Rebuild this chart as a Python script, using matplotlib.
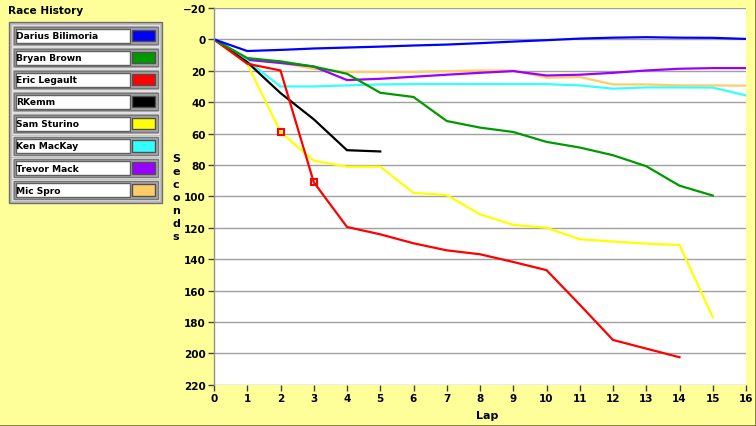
import matplotlib
matplotlib.use("Agg")
import matplotlib.pyplot as plt
from matplotlib.patches import Rectangle
from matplotlib.lines import Line2D

# Race history data (seconds behind leader per lap)
names = ["Darius Bilimoria", "Bryan Brown", "Eric Legault", "RKemm",
         "Sam Sturino", "Ken MacKay", "Trevor Mack", "Mic Spro"]
colors = ["#0000FF", "#009900", "#FF0000", "#000000",
          "#FFFF00", "#33FFFF", "#9900FF", "#FFCC66"]

darius = [0, 7.4, 6.7, 5.8, 5.2, 4.6, 3.9, 3.3, 2.4, 1.4, 0.5, -0.5, -1.1, -1.4, -1.1, -1.0, -0.3]
bryan = [0, 11.9, 14, 17.3, 21.9, 34, 36.7, 52, 56.2, 59, 65.3, 68.9, 73.8, 80.8, 93.2, 99.5]
eric = [0, 15.5, 19.8, 91, 119.5, 124.2, 129.9, 134.4, 136.9, 141.8, 147, 169, 191.5, 197, 202.5]
rkemm = [0, 14.5, 34.2, 50.9, 70.6, 71.4]
sam = [0, 15.5, 59, 77.3, 81.1, 81.1, 97.8, 99.2, 111.4, 118.2, 120, 127.3, 128.8, 130.1, 131, 177]
ken = [0, 13.5, 30, 30, 29.3, 28.7, 28.5, 28.5, 28.5, 28.5, 28.5, 29.3, 31.4, 30.6, 30.6, 30.7, 35.7]
trevor = [0, 13, 15, 17.3, 25.9, 25.1, 23.8, 22.5, 21.3, 20.2, 23, 22.5, 21.3, 19.8, 18.7, 18.3, 18.3]
mic = [0, 12.5, 15, 18.7, 20.8, 20.8, 20.8, 20.2, 19.8, 19.8, 24.4, 24, 28.7, 28.7, 29.3, 29.3, 29.5]
series = [darius, bryan, eric, rkemm, sam, ken, trevor, mic]

# red square markers (lap, seconds)
mark_laps = [2, 3]
mark_secs = [59, 91]

y_ticks = list(range(-20, 221, 20))
x_ticks = list(range(0, 17))

BG = "#FFFF99"
W, H = 756, 427
fig = plt.figure(figsize=(W / 100, H / 100), dpi=100, facecolor=BG)

ax = fig.add_axes([214 / W, 1 - 385.7 / H, 532 / W, 376.7 / H])
ax.set_facecolor("white")

# draw in reverse so the first driver sits on top
for vals, c in reversed(list(zip(series, colors))):
    ax.plot(range(len(vals)), vals, color=c, lw=1.6, solid_joinstyle="miter")

ax.plot(mark_laps, mark_secs, linestyle="none", marker="s", markersize=5,
        markerfacecolor="none", markeredgecolor="#FF0000", markeredgewidth=1.5, zorder=5)

ax.set_xlim(0, 16)
ax.set_ylim(220, -20)
ax.set_xticks(x_ticks)
ax.set_yticks(y_ticks)
ax.yaxis.grid(True, color="#A0A0A0", lw=1)
ax.set_axisbelow(True)

for s in ["top", "right", "bottom"]:
    ax.spines[s].set_visible(False)
ax.spines["left"].set_color("#909090")
ax.spines["left"].set_linewidth(1)

ax.tick_params(axis="both", direction="out", length=4, width=1, color="#404040",
               labelsize=7.5, pad=2)
for lbl in ax.get_xticklabels() + ax.get_yticklabels():
    lbl.set_fontweight("bold")

# axis titles
fig.text(176 / W, 1 - 198 / H, "S\ne\nc\no\nn\nd\ns", ha="center", va="center",
         fontsize=8, fontweight="bold", linespacing=1.38)
fig.text(487 / W, 1 - 416 / H, "Lap", ha="center", va="center",
         fontsize=8, fontweight="bold")
fig.text(8 / W, 1 - 11 / H, "Race History", ha="left", va="center",
         fontsize=7.6, fontweight="bold")

# legend panel drawn in pixel coordinates
leg = fig.add_axes([0, 0, 1, 1], facecolor="none")
leg.set_xlim(0, W)
leg.set_ylim(H, 0)
leg.axis("off")

leg.add_patch(Rectangle((8.5, 22.5), 153.5, 181, facecolor="#B8B8B8",
                        edgecolor="#707070", lw=1))
for i, (name, c) in enumerate(zip(names, colors)):
    top = 26 + i * 22.1
    leg.add_patch(Rectangle((12, top), 147, 20.5, facecolor="#A8A8A8",
                            edgecolor="#E0E0E0", lw=1))
    leg.add_patch(Rectangle((13.5, top + 1.5), 144, 17.5, facecolor="none",
                            edgecolor="#787878", lw=1))
    leg.add_patch(Rectangle((15.5, top + 3.5), 114, 14, facecolor="white",
                            edgecolor="#606060", lw=1))
    leg.add_patch(Rectangle((131.5, top + 4.5), 23, 11.5, facecolor=c,
                            edgecolor="#505050", lw=1))
    leg.text(16.5, top + 10.5, name, ha="left", va="center",
             fontsize=6.6, fontweight="bold")

# thin dark frame at bottom/right of window
fig.add_artist(Line2D([0, 1], [0.5 / H, 0.5 / H], color="#6E6E40", lw=1.2,
                      transform=fig.transFigure))
fig.add_artist(Line2D([1 - 0.5 / W, 1 - 0.5 / W], [0, 1], color="#6E6E40", lw=1.2,
                      transform=fig.transFigure))

fig.savefig("out.png", dpi=100, facecolor=BG)
